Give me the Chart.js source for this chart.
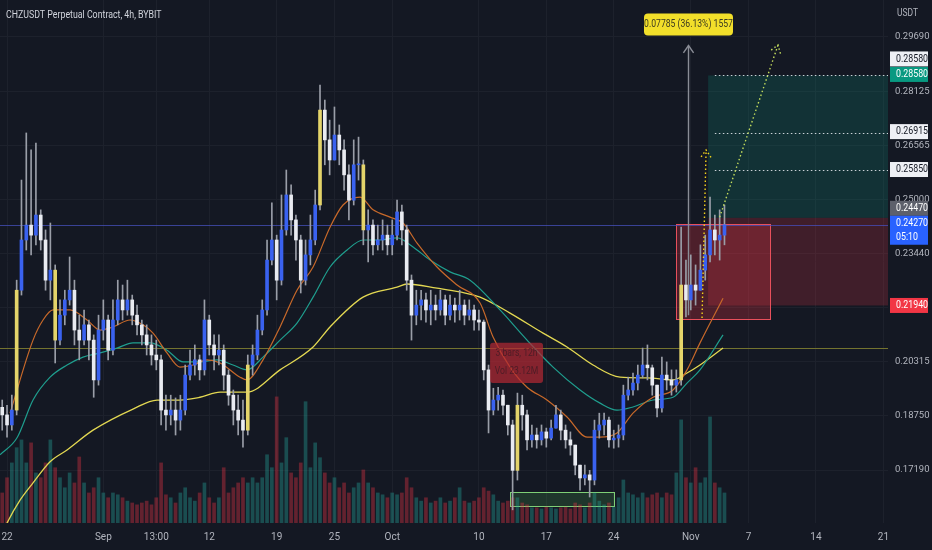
<!DOCTYPE html>
<html>
<head>
<meta charset="utf-8">
<title>CHZUSDT 4h</title>
<script src="https://cdn.jsdelivr.net/npm/chart.js@4.4.0/dist/chart.umd.min.js"></script>
<style>
  html, body { margin: 0; padding: 0; background: #141823; }
  .contenedor { width: 932px; height: 550px; position: relative; }
</style>
</head>
<body>
<div class="contenedor"><canvas id="grafico"></canvas></div>
<script>
// --- Datos (velas agrupadas de 12h) ---
const inicioDia = -0.5;      // día 0 = 22 ago
const pasoDia = 0.5;
const aperturaInicial = 0.1900;

const cierres = [
  0.1878, 0.1849, 0.1892, 0.2238, 0.2383, 0.2426, 0.2397, 0.2455, 0.2383, 0.2267,
  0.2296, 0.2094, 0.2166, 0.2210, 0.2238, 0.2123, 0.2094, 0.2138, 0.2094, 0.1979,
  0.2123, 0.2152, 0.2065, 0.2152, 0.2210, 0.2181, 0.2210, 0.2166, 0.2138, 0.2109,
  0.2080, 0.2051, 0.2037, 0.1892, 0.1878, 0.1892, 0.1863, 0.1892, 0.1993, 0.2022,
  0.2037, 0.2008, 0.2152, 0.2080, 0.2051, 0.2065, 0.1993, 0.1935, 0.1892, 0.1863,
  0.1834, 0.2022, 0.2051, 0.2123, 0.2181, 0.2325, 0.2383, 0.2267, 0.2412, 0.2513,
  0.2441, 0.2383, 0.2267, 0.2340, 0.2383, 0.2484, 0.2758, 0.2672, 0.2614, 0.2686,
  0.2643, 0.2571, 0.2498, 0.2600, 0.2600, 0.2412, 0.2426, 0.2369, 0.2383, 0.2397,
  0.2369, 0.2397, 0.2464, 0.2412, 0.2267, 0.2166, 0.2195, 0.2210, 0.2181, 0.2195,
  0.2181, 0.2210, 0.2166, 0.2195, 0.2181, 0.2195, 0.2166, 0.2181, 0.2152, 0.2146,
  0.2008, 0.1892, 0.1921, 0.1935, 0.1906, 0.1849, 0.1718, 0.1906, 0.1878, 0.1806,
  0.1820, 0.1806, 0.1829, 0.1811, 0.1840, 0.1878, 0.1834, 0.1806, 0.1791, 0.1733,
  0.1696, 0.1705, 0.1690, 0.1834, 0.1849, 0.1863, 0.1806, 0.1811, 0.1820, 0.1935,
  0.1950, 0.1970, 0.1993, 0.2022, 0.2014, 0.1964, 0.1898, 0.1993, 0.1979, 0.1964,
  0.1979, 0.2253, 0.2210, 0.2253, 0.2238, 0.2296, 0.2340, 0.2412, 0.2383, 0.2397,
  0.2427
];
const maximos = [
  0.1921, 0.1906, 0.1935, 0.2267, 0.2556, 0.2692, 0.2643, 0.2663, 0.2470, 0.2412,
  0.2432, 0.2311, 0.2210, 0.2238, 0.2334, 0.2267, 0.2166, 0.2181, 0.2152, 0.2109,
  0.2166, 0.2210, 0.2166, 0.2210, 0.2267, 0.2253, 0.2267, 0.2224, 0.2195, 0.2152,
  0.2138, 0.2109, 0.2094, 0.2051, 0.1935, 0.1935, 0.1927, 0.1935, 0.2022, 0.2065,
  0.2080, 0.2051, 0.2210, 0.2166, 0.2109, 0.2109, 0.2080, 0.2008, 0.1950, 0.1935,
  0.1921, 0.2051, 0.2080, 0.2166, 0.2210, 0.2383, 0.2490, 0.2397, 0.2513, 0.2585,
  0.2542, 0.2455, 0.2397, 0.2383, 0.2455, 0.2527, 0.2830, 0.2787, 0.2729, 0.2767,
  0.2715, 0.2672, 0.2600, 0.2672, 0.2680, 0.2614, 0.2470, 0.2441, 0.2426, 0.2441,
  0.2426, 0.2441, 0.2498, 0.2484, 0.2426, 0.2282, 0.2238, 0.2238, 0.2230, 0.2238,
  0.2224, 0.2238, 0.2224, 0.2224, 0.2215, 0.2238, 0.2210, 0.2210, 0.2195, 0.2181,
  0.2152, 0.2022, 0.1955, 0.1958, 0.1950, 0.1906, 0.1863, 0.1941, 0.1935, 0.1892,
  0.1849, 0.1840, 0.1849, 0.1840, 0.1863, 0.1906, 0.1892, 0.1849, 0.1829, 0.1791,
  0.1733, 0.1733, 0.1718, 0.1863, 0.1883, 0.1883, 0.1872, 0.1834, 0.1849, 0.1964,
  0.1987, 0.1999, 0.2022, 0.2071, 0.2080, 0.2022, 0.1964, 0.2045, 0.2031, 0.2008,
  0.2008, 0.2420, 0.2325, 0.2340, 0.2311, 0.2369, 0.2397, 0.2507, 0.2455, 0.2470,
  0.2484
];
const minimos = [
  0.1834, 0.1814, 0.1834, 0.1878, 0.2224, 0.2354, 0.2340, 0.2369, 0.2354, 0.2238,
  0.2210, 0.2028, 0.2080, 0.2138, 0.2195, 0.2080, 0.2037, 0.2080, 0.2037, 0.1929,
  0.1964, 0.2094, 0.2037, 0.2051, 0.2138, 0.2152, 0.2166, 0.2138, 0.2109, 0.2080,
  0.2051, 0.2022, 0.2008, 0.1849, 0.1834, 0.1849, 0.1820, 0.1834, 0.1878, 0.1979,
  0.1993, 0.1979, 0.1993, 0.2051, 0.2008, 0.2022, 0.1950, 0.1906, 0.1849, 0.1820,
  0.1785, 0.1820, 0.1993, 0.2037, 0.2109, 0.2166, 0.2311, 0.2210, 0.2253, 0.2397,
  0.2397, 0.2325, 0.2230, 0.2253, 0.2311, 0.2369, 0.2470, 0.2600, 0.2571, 0.2614,
  0.2600, 0.2527, 0.2441, 0.2484, 0.2556, 0.2369, 0.2320, 0.2340, 0.2354, 0.2354,
  0.2340, 0.2340, 0.2383, 0.2369, 0.2238, 0.2094, 0.2138, 0.2152, 0.2146, 0.2138,
  0.2152, 0.2166, 0.2138, 0.2152, 0.2146, 0.2152, 0.2138, 0.2152, 0.2123, 0.2123,
  0.1979, 0.1826, 0.1878, 0.1892, 0.1878, 0.1820, 0.1604, 0.1690, 0.1834, 0.1777,
  0.1785, 0.1782, 0.1791, 0.1785, 0.1806, 0.1840, 0.1806, 0.1782, 0.1762, 0.1705,
  0.1661, 0.1676, 0.1641, 0.1676, 0.1811, 0.1820, 0.1785, 0.1782, 0.1785, 0.1806,
  0.1921, 0.1935, 0.1950, 0.1985, 0.1979, 0.1935, 0.1872, 0.1886, 0.1950, 0.1935,
  0.1944, 0.1964, 0.2161, 0.2181, 0.2195, 0.2238, 0.2267, 0.2320, 0.2340, 0.2325,
  0.2369
];
// volumen en millones
const volumenes = [
  8.1, 12.2, 16.2, 20.3, 22.4, 16.2, 21.6, 13.5, 12.2, 16.2,
  22.4, 14.9, 12.2, 9.5, 13.5, 10.8, 17.8, 10.8, 8.1, 9.5,
  12.2, 8.1, 6.8, 8.1, 7.6, 6.8, 5.9, 5.4, 4.9, 5.4,
  5.9, 4.9, 6.8, 16.2, 7.6, 6.8, 5.4, 8.1, 9.5, 6.8,
  5.9, 8.1, 10.8, 6.8, 5.4, 6.8, 14.9, 8.1, 9.5, 10.8,
  12.2, 10.8, 12.2, 10.8, 12.2, 18.4, 14.9, 34.0, 16.2, 23.0,
  13.5, 12.2, 16.2, 32.7, 14.9, 21.6, 17.6, 13.5, 10.8, 12.2,
  9.5, 10.8, 8.1, 9.5, 10.8, 14.3, 10.8, 9.5, 8.1, 7.6,
  6.8, 8.1, 7.6, 8.1, 12.2, 9.5, 6.8, 5.9, 6.8, 5.4,
  5.9, 6.8, 5.4, 5.9, 6.8, 9.5, 5.9, 5.4, 5.9, 6.8,
  9.5, 8.6, 7.6, 5.9, 5.4, 5.9, 6.8, 6.8, 5.4, 4.9,
  4.1, 4.1, 3.8, 4.3, 4.1, 3.8, 4.1, 4.3, 3.8, 5.4,
  4.9, 4.1, 5.4, 8.1, 5.9, 4.9, 5.4, 4.3, 6.8, 11.6,
  8.1, 7.6, 6.8, 8.1, 6.8, 7.6, 8.1, 6.8, 8.1, 7.6,
  13.5, 27.8, 12.2, 10.8, 14.9, 10.8, 12.2, 28.6, 10.8, 9.5,
  8.1
];

// --- Medias móviles (día, precio) ---
const emaCortaDias = [0.31, 2.70, 3.74, 4.78, 6.54, 8.31, 9.66, 11.01, 12.77, 14.12, 15.16, 16.61, 17.96, 19.31, 20.77, 22.12, 24.20, 24.92, 26.58, 28.35, 30.11, 31.78, 33.54, 34.89, 36.66, 38.01, 39.77, 41.12, 42.58, 44.65, 46.73, 49.12, 50.47, 52.23, 54.00, 56.07, 58.15, 60.23, 61.58, 63.34, 65.00, 67.08, 69.16, 70.61, 71.96, 74.35];
const emaCorta = [0.1883, 0.2094, 0.2152, 0.2181, 0.2181, 0.2152, 0.2123, 0.2132, 0.2152, 0.2138, 0.2114, 0.2057, 0.2016, 0.2022, 0.2037, 0.2028, 0.1987, 0.1979, 0.2037, 0.2132, 0.2238, 0.2305, 0.2420, 0.2484, 0.2507, 0.2470, 0.2449, 0.2432, 0.2374, 0.2305, 0.2253, 0.2201, 0.2103, 0.2016, 0.1958, 0.1921, 0.1872, 0.1814, 0.1814, 0.1826, 0.1883, 0.1929, 0.1950, 0.2008, 0.2086, 0.2215];
const emaMediaDias = [-0.73, 1.04, 2.70, 4.47, 6.23, 7.89, 9.66, 11.42, 13.08, 14.85, 16.61, 18.28, 20.04, 21.81, 23.47, 24.92, 26.58, 28.35, 30.11, 31.78, 33.54, 35.31, 36.97, 38.73, 40.50, 42.16, 43.93, 46.00, 48.08, 51.19, 54.00, 56.70, 59.50, 61.58, 63.34, 65.00, 67.08, 69.16, 70.61, 71.96, 74.35];
const emaMedia = [0.1763, 0.1812, 0.1921, 0.1987, 0.2022, 0.2045, 0.2057, 0.2071, 0.2086, 0.2086, 0.2065, 0.2031, 0.2031, 0.2037, 0.2022, 0.2008, 0.2045, 0.2094, 0.2143, 0.2218, 0.2305, 0.2354, 0.2383, 0.2383, 0.2389, 0.2363, 0.2325, 0.2291, 0.2267, 0.2181, 0.2094, 0.2016, 0.1950, 0.1912, 0.1892, 0.1901, 0.1921, 0.1929, 0.1970, 0.2008, 0.2109];
const smaLargaDias = [-0.42, 0, 1.35, 2.70, 4.47, 6.23, 8.93, 13.08, 15.58, 17.96, 20.04, 22.12, 24.92, 28.35, 31.78, 33.54, 36.97, 40.50, 41.54, 44.65, 47.04, 49.12, 52.23, 55.66, 58.15, 60.85, 63.66, 66.46, 69.16, 70.61, 71.96, 74.35];
const smaLarga = [0.1540, 0.1566, 0.1632, 0.1682, 0.1743, 0.1777, 0.1834, 0.1895, 0.1921, 0.1921, 0.1929, 0.1944, 0.1944, 0.2008, 0.2074, 0.2132, 0.2218, 0.2247, 0.2256, 0.2244, 0.2233, 0.2218, 0.2172, 0.2114, 0.2074, 0.2022, 0.1987, 0.1985, 0.1979, 0.1999, 0.2022, 0.2071];

// --- Ejes ---
const ticksFecha = [0, 10, 15.5, 21, 28, 34, 40, 49, 56, 63, 71, 77, 84, 91];
const etiquetasFecha = ['22', 'Sep', '13:00', '12', '19', '25', 'Oct', '10', '17', '24', 'Nov', '7', '14', '21'];
const ticksPrecio = [0.1719, 0.1875, 0.20315, 0.2188, 0.2344, 0.25, 0.26565, 0.28125, 0.2969];
const etiquetasPrecio = ['0.17190', '0.18750', '0.20315', '', '0.23440', '0.25000', '0.26565', '0.28125', '0.29690'];

// --- Dibujos sobre el gráfico (días / precios) ---
const posicion = { desde: 72.8, entrada: 0.2447, objetivo: 0.2858, stop: 0.2194 };
const nivelesObjetivo = [0.2858, 0.26915, 0.2585];
const inicioNiveles = 73.5;
const cajaRoja = { x0: 69.47, x1: 79.23, y0: 0.2429, y1: 0.2155 };
const cajaVerde = { x0: 52.23, x1: 63.03, y0: 0.16555, y1: 0.16151 };
const cajaBarras = { x0: 50.16, x1: 55.66, y0: 0.2086, y1: 0.1970, lineas: ['3 bars, 12h', 'Vol 23.12M'] };
const medida = { dia: 70.72, desde: 0.2166, hasta: 0.29445, texto: '0.07785 (36.13%) 1557' };
const flechaAmarilla = { d0: 72.17, p0: 0.2158, d1: 72.59, p1: 0.2643 };
const flechaVerde = { d0: 74.0, p0: 0.2449, d1: 80.06, p1: 0.2946 };
const precioActual = 0.2427;
const lineaOliva = 0.2071;
const titulo = 'CHZUSDT Perpetual Contract, 4h, BYBIT';

const etiquetasEje = [
  { precio: 0.2858, lineas: ['0.28580'], fondo: '#eef0f5', tinta: '#131722', dy: -16.5 },
  { precio: 0.2858, lineas: ['0.28580'], fondo: '#089981', tinta: '#ffffff', dy: -1 },
  { precio: 0.26915, lineas: ['0.26915'], fondo: '#eef0f5', tinta: '#131722', dy: -1.5 },
  { precio: 0.2585, lineas: ['0.25850'], fondo: '#eef0f5', tinta: '#131722', dy: -0.5 },
  { precio: 0.2447, lineas: ['0.24470'], fondo: '#5d606b', tinta: '#ffffff', dy: -9.5 },
  { precio: 0.2427, lineas: ['0.24270', '05:10'], fondo: '#2962ff', tinta: '#ffffff', dy: -1.5 },
  { precio: 0.2194, lineas: ['0.21940'], fondo: '#f23645', tinta: '#ffffff', dy: 0 }
];

const fuente = "Roboto, 'Liberation Sans', sans-serif";

// --- Preparar velas ---
const dias = cierres.map((_, i) => inicioDia + i * pasoDia);
const aperturas = cierres.map((c, i) => i === 0 ? aperturaInicial : cierres[i - 1]);
const sube = cierres.map((c, i) => c >= aperturas[i]);
const colorCuerpo = cierres.map((c, i) => {
    if (Math.abs(c - aperturas[i]) > 0.017) return '#e4d46a';
    return sube[i] ? '#3a62f0' : '#e9ebf1';
});

function caja(ctx, x, y, c, relleno, borde) {
    const x0 = x.getPixelForValue(c.x0), x1 = x.getPixelForValue(c.x1);
    const y0 = y.getPixelForValue(c.y0), y1 = y.getPixelForValue(c.y1);
    ctx.fillStyle = relleno;
    ctx.fillRect(x0, y0, x1 - x0, y1 - y0);
    if (borde) {
        ctx.strokeStyle = borde;
        ctx.lineWidth = 1;
        ctx.setLineDash([]);
        ctx.strokeRect(Math.round(x0) + 0.5, Math.round(y0) + 0.5, Math.round(x1 - x0), Math.round(y1 - y0));
    }
}

function flecha(ctx, x0, y0, x1, y1, color, punteada) {
    ctx.strokeStyle = color;
    ctx.lineWidth = 1.4;
    ctx.setLineDash(punteada ? [1.5, 2.5] : []);
    ctx.beginPath();
    ctx.moveTo(x0, y0);
    ctx.lineTo(x1, y1);
    ctx.stroke();
    const ang = Math.atan2(y1 - y0, x1 - x0);
    const t = 9;
    ctx.beginPath();
    ctx.moveTo(x1 - t * Math.cos(ang - 0.6), y1 - t * Math.sin(ang - 0.6));
    ctx.lineTo(x1, y1);
    ctx.lineTo(x1 - t * Math.cos(ang + 0.6), y1 - t * Math.sin(ang + 0.6));
    ctx.stroke();
    ctx.setLineDash([]);
}

function rectRedondo(ctx, x, y, w, h, r) {
    ctx.beginPath();
    ctx.moveTo(x + r, y);
    ctx.arcTo(x + w, y, x + w, y + h, r);
    ctx.arcTo(x + w, y + h, x, y + h, r);
    ctx.arcTo(x, y + h, x, y, r);
    ctx.arcTo(x, y, x + w, y, r);
    ctx.closePath();
}

// texto algo comprimido a lo ancho, como en la captura
function textoEstrecho(ctx, texto, x, y, escala) {
    ctx.save();
    ctx.translate(x, y);
    ctx.scale(escala, 1);
    ctx.fillText(texto, 0, 0);
    ctx.restore();
}

const dibujos = {
    id: 'dibujos',
    beforeDatasetsDraw(chart) {
        const { ctx, chartArea: a, scales: { x, y } } = chart;
        ctx.save();
        ctx.beginPath();
        ctx.rect(a.left, a.top, a.right - a.left, a.bottom - a.top);
        ctx.clip();

        // --- Zonas de la posición ---
        const xp = x.getPixelForValue(posicion.desde);
        const yEnt = y.getPixelForValue(posicion.entrada);
        const yObj = y.getPixelForValue(posicion.objetivo);
        const yStop = y.getPixelForValue(posicion.stop);
        ctx.fillStyle = 'rgba(8,153,129,0.2)';
        ctx.fillRect(xp, yObj, a.right - xp, yEnt - yObj);
        ctx.fillStyle = 'rgba(242,54,69,0.2)';
        ctx.fillRect(xp, yEnt, a.right - xp, yStop - yEnt);

        caja(ctx, x, y, cajaRoja, 'rgba(242,54,69,0.26)', '#e8505c');
        caja(ctx, x, y, cajaVerde, 'rgba(76,175,80,0.2)', '#7fcf76');

        // --- Líneas horizontales ---
        ctx.lineWidth = 1;
        ctx.strokeStyle = 'rgba(70,80,190,0.75)';
        let yy = Math.round(y.getPixelForValue(precioActual)) + 0.5;
        ctx.beginPath(); ctx.moveTo(a.left, yy); ctx.lineTo(a.right, yy); ctx.stroke();
        ctx.strokeStyle = '#74732f';
        yy = Math.round(y.getPixelForValue(lineaOliva)) + 0.5;
        ctx.beginPath(); ctx.moveTo(a.left, yy); ctx.lineTo(a.right, yy); ctx.stroke();
        ctx.restore();
    },
    afterDatasetsDraw(chart) {
        const { ctx, chartArea: a, scales: { x, y } } = chart;
        ctx.save();

        // --- Niveles de objetivo punteados ---
        ctx.strokeStyle = 'rgba(235,238,245,0.85)';
        ctx.lineWidth = 1.2;
        ctx.setLineDash([1.5, 2.5]);
        const xn = x.getPixelForValue(inicioNiveles);
        nivelesObjetivo.forEach(p => {
            const yy = Math.round(y.getPixelForValue(p)) + 0.5;
            ctx.beginPath(); ctx.moveTo(xn, yy); ctx.lineTo(a.right, yy); ctx.stroke();
        });
        ctx.setLineDash([]);

        // --- Flechas ---
        const xm = Math.round(x.getPixelForValue(medida.dia)) + 0.5;
        const ymTop = y.getPixelForValue(medida.hasta);
        flecha(ctx, xm, y.getPixelForValue(medida.desde), xm, ymTop, '#8a8d96', false);
        flecha(ctx, x.getPixelForValue(flechaAmarilla.d0), y.getPixelForValue(flechaAmarilla.p0),
            x.getPixelForValue(flechaAmarilla.d1), y.getPixelForValue(flechaAmarilla.p1), '#f2d31b', true);
        flecha(ctx, x.getPixelForValue(flechaVerde.d0), y.getPixelForValue(flechaVerde.p0),
            x.getPixelForValue(flechaVerde.d1), y.getPixelForValue(flechaVerde.p1), '#c3dc5c', true);

        // --- Etiqueta de la medida ---
        ctx.font = `10.5px ${fuente}`;
        ctx.textBaseline = 'middle';
        ctx.textAlign = 'center';
        const w = 89, h = 22;
        rectRedondo(ctx, xm - w / 2, ymTop - 32, w, h, 4);
        ctx.fillStyle = '#f2df2a';
        ctx.fill();
        ctx.fillStyle = '#3b3a20';
        textoEstrecho(ctx, medida.texto, xm, ymTop - 21, 0.82);

        // --- Caja de barras / volumen ---
        const bx0 = x.getPixelForValue(cajaBarras.x0), bx1 = x.getPixelForValue(cajaBarras.x1);
        const by0 = y.getPixelForValue(cajaBarras.y0), by1 = y.getPixelForValue(cajaBarras.y1);
        rectRedondo(ctx, bx0, by0, bx1 - bx0, by1 - by0, 3);
        ctx.fillStyle = 'rgba(178,40,51,0.72)';
        ctx.fill();
        ctx.fillStyle = 'rgba(40,24,32,0.6)';
        ctx.font = `10.5px ${fuente}`;
        textoEstrecho(ctx, cajaBarras.lineas[0], (bx0 + bx1) / 2, by0 + 11, 0.82);
        textoEstrecho(ctx, cajaBarras.lineas[1], (bx0 + bx1) / 2, by0 + 29, 0.82);
        ctx.restore();
    },
    afterDraw(chart) {
        const { ctx, chartArea: a, scales: { y } } = chart;
        ctx.save();
        ctx.textBaseline = 'middle';
        ctx.textAlign = 'left';

        // --- Título y unidad ---
        ctx.font = `11px ${fuente}`;
        ctx.fillStyle = '#d1d4dc';
        textoEstrecho(ctx, titulo, 6, 15, 0.8);
        ctx.font = `10px ${fuente}`;
        ctx.fillStyle = '#b2b5be';
        textoEstrecho(ctx, 'USDT', 897, 13, 0.85);

        // --- Etiquetas de precio en el eje ---
        ctx.font = `10.5px ${fuente}`;
        etiquetasEje.forEach(e => {
            const yc = y.getPixelForValue(e.precio) + e.dy;
            const alto = 15 * e.lineas.length - (e.lineas.length - 1);
            ctx.fillStyle = e.fondo;
            ctx.fillRect(a.right + 2, yc - 7.5, 38, alto);
            ctx.fillStyle = e.tinta;
            e.lineas.forEach((t, k) => textoEstrecho(ctx, t, 896, yc + k * 14, 0.84));
        });
        ctx.restore();
    }
};

// --- Gráfico ---
const ctx = document.getElementById('grafico').getContext('2d');

new Chart(ctx, {
    type: 'bar',
    data: {
        datasets: [
            {
                label: 'Mechas',
                data: dias.map((d, i) => ({ x: d, y: [minimos[i], maximos[i]] })),
                backgroundColor: '#9a9ea8',
                barThickness: 1,
                grouped: false,
                order: 2
            },
            {
                label: 'Cuerpos',
                data: dias.map((d, i) => ({ x: d, y: [aperturas[i], cierres[i]] })),
                backgroundColor: colorCuerpo,
                barThickness: 3,
                minBarLength: 1,
                grouped: false,
                order: 1
            },
            {
                label: 'Volumen',
                yAxisID: 'vol',
                data: dias.map((d, i) => ({ x: d, y: volumenes[i] })),
                backgroundColor: sube.map(s => s ? 'rgba(38,166,154,0.38)' : 'rgba(242,54,69,0.36)'),
                barThickness: 3,
                grouped: false,
                order: 10
            },
            {
                type: 'line',
                label: 'EMA corta',
                data: emaCortaDias.map((d, i) => ({ x: d, y: emaCorta[i] })),
                borderColor: '#c8692a',
                borderWidth: 1.2,
                pointRadius: 0,
                cubicInterpolationMode: 'monotone',
                order: 5
            },
            {
                type: 'line',
                label: 'EMA media',
                data: emaMediaDias.map((d, i) => ({ x: d, y: emaMedia[i] })),
                borderColor: '#1f9e8e',
                borderWidth: 1.2,
                pointRadius: 0,
                cubicInterpolationMode: 'monotone',
                order: 5
            },
            {
                type: 'line',
                label: 'SMA larga',
                data: smaLargaDias.map((d, i) => ({ x: d, y: smaLarga[i] })),
                borderColor: '#e3d852',
                borderWidth: 1.3,
                pointRadius: 0,
                cubicInterpolationMode: 'monotone',
                order: 5
            }
        ]
    },
    options: {
        responsive: true,
        maintainAspectRatio: false,
        animation: false,
        devicePixelRatio: 1,
        layout: { padding: 0 },
        plugins: {
            legend: { display: false },
            tooltip: { enabled: false }
        },
        scales: {
            x: {
                type: 'linear',
                min: -0.73,
                max: 91.48,
                offset: false,
                afterBuildTicks: s => { s.ticks = ticksFecha.map(v => ({ value: v })); },
                afterFit: s => { s.height = 27; s.paddingLeft = 0; s.paddingRight = 0; },
                ticks: {
                    autoSkip: false,
                    maxRotation: 0,
                    padding: 8,
                    color: '#b2b5be',
                    font: { family: fuente, size: 10 },
                    callback: (v, i) => etiquetasFecha[i]
                },
                grid: { color: '#1d212c', drawTicks: false, offset: false },
                border: { display: false }
            },
            y: {
                type: 'linear',
                position: 'right',
                min: 0.1566,
                max: 0.30758,
                afterBuildTicks: s => { s.ticks = ticksPrecio.map(v => ({ value: v })); },
                afterFit: s => { s.width = 44; s.paddingTop = 0; s.paddingBottom = 0; },
                ticks: {
                    padding: 7,
                    color: '#b2b5be',
                    font: { family: fuente, size: 9.5 },
                    callback: (v, i) => etiquetasPrecio[i]
                },
                grid: { color: '#1d212c', drawTicks: false },
                border: { display: false }
            },
            vol: {
                type: 'linear',
                display: false,
                min: 0,
                max: 141
            }
        }
    },
    plugins: [dibujos]
});
</script>
</body>
</html>
